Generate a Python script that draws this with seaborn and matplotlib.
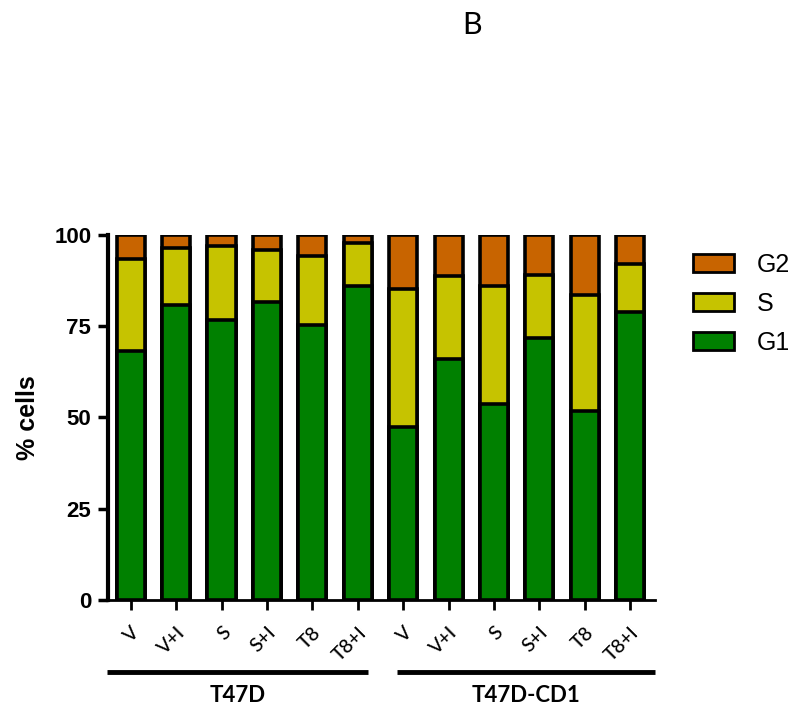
import numpy as np
import pandas as pd
import matplotlib
matplotlib.use("Agg")
import matplotlib.pyplot as plt
import seaborn as sns
from matplotlib.patches import Patch

# data (% of cells in each phase)
conditions = ['V', 'V+I', 'S', 'S+I', 'T8', 'T8+I',
              'V', 'V+I', 'S', 'S+I', 'T8', 'T8+I']
g1 = [68.3, 80.7, 76.7, 81.7, 75.3, 85.9, 47.5, 66.1, 53.7, 71.8, 51.7, 79.0]
s = [25.1, 15.8, 20.2, 14.2, 18.9, 11.9, 37.6, 22.7, 32.3, 17.3, 31.8, 13.0]
g2 = [6.6, 3.5, 3.1, 4.1, 5.8, 2.2, 14.9, 11.2, 14.0, 10.9, 16.5, 8.0]
groups = ['T47D', 'T47D-CD1']

colors = {'G1': '#008000', 'S': '#C6C300', 'G2': '#C86400'}

df = pd.DataFrame({'pos': range(len(conditions)), 'G1': g1, 'S': s, 'G2': g2})
df['G1+S'] = df['G1'] + df['S']
df['total'] = df['G1+S'] + df['G2']

sns.set_style('ticks')
plt.rcParams['font.family'] = ['Liberation Sans', 'DejaVu Sans']
for key in ['text.color', 'axes.labelcolor', 'xtick.color', 'ytick.color',
            'axes.edgecolor']:
    plt.rcParams[key] = 'black'

fig = plt.figure(figsize=(8, 7.2), dpi=100)
ax = fig.add_axes([0.135, 0.1667, 0.684, 0.507])

# stacked bars: draw cumulative heights from the top down
for col, phase in [('total', 'G2'), ('G1+S', 'S'), ('G1', 'G1')]:
    sns.barplot(data=df, x='pos', y=col, color=colors[phase], saturation=1,
                width=0.62, edgecolor='black', linewidth=2.6, ax=ax)

ax.set_ylim(0, 100)
ax.set_xlim(-0.5, 11.55)
ax.set_yticks([0, 25, 50, 75, 100])
ax.set_yticklabels(['0', '25', '50', '75', '100'], fontsize=16, fontweight='bold')
ax.set_xticks(range(len(conditions)))
ax.set_xticklabels(conditions, rotation=45, ha='right', va='top',
                   rotation_mode='anchor', fontsize=14, fontweight='medium',
                   family=['Lato', 'DejaVu Sans'])
ax.tick_params(axis='x', length=7, width=2, pad=10)
ax.tick_params(axis='y', length=7, width=2.5, pad=5)
ax.set_xlabel('')
ax.set_ylabel('% cells', fontsize=18, fontweight='bold', labelpad=10)
sns.despine(ax=ax)
ax.spines['left'].set_linewidth(3)
ax.spines['bottom'].set_linewidth(2)

# group bars under the tick labels
tr = ax.get_xaxis_transform()
for (x0, x1), name in zip([(-0.53, 5.22), (5.86, 11.54)], groups):
    ax.plot([x0, x1], [-0.197, -0.197], color='black', lw=3.5,
            transform=tr, clip_on=False, solid_capstyle='butt')
    ax.text((x0 + x1) / 2, -0.232, name, transform=tr, ha='center', va='top',
            fontsize=16, fontweight='bold', family=['Lato', 'DejaVu Sans'])

handles = [Patch(facecolor=colors[p], edgecolor='black', linewidth=2, label=p)
           for p in ['G2', 'S', 'G1']]
fig.legend(handles=handles, loc='upper left', bbox_to_anchor=(0.838, 0.68),
           frameon=False, fontsize=18, handlelength=1.65, handleheight=0.7,
           handletextpad=0.9, labelspacing=0.6)

fig.text(0.59, 0.985, 'B', ha='center', va='top', fontsize=22,
         family=['Lato', 'DejaVu Sans'])

fig.savefig('out.png', dpi=100)
